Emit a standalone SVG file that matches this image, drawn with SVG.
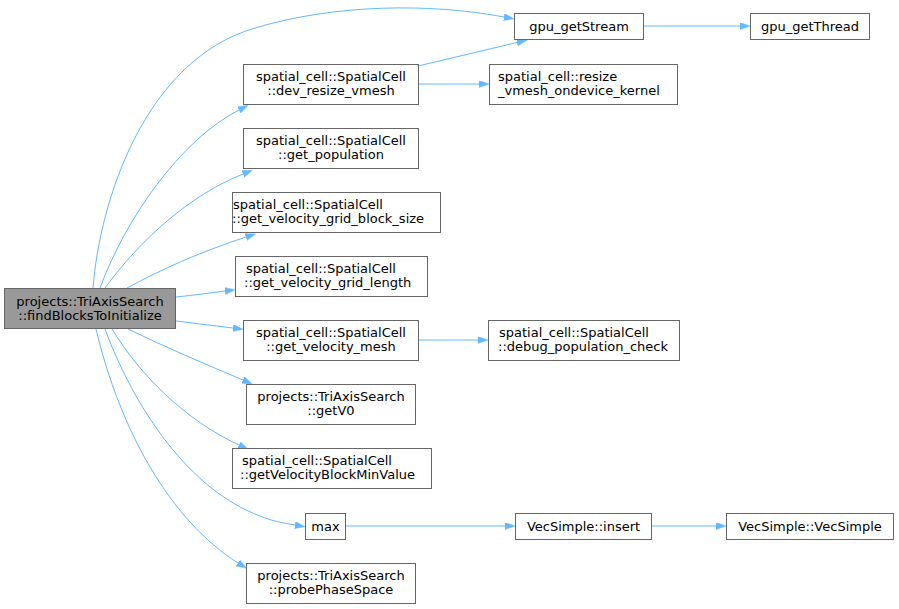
<svg xmlns="http://www.w3.org/2000/svg" width="899" height="609" viewBox="0 0 899 609">
<style>
.n rect{fill:#ffffff;stroke:#666666;stroke-width:1}
.n.m rect{fill:#999999}
text{font-family:"DejaVu Sans","Liberation Sans",sans-serif;font-size:13px;fill:#000000}
.c{text-anchor:middle}
.e path{fill:none;stroke:#63b8ff;stroke-width:1;marker-end:url(#ah)}
</style>
<defs>
<marker id="ah" markerUnits="userSpaceOnUse" markerWidth="11" markerHeight="8" refX="0" refY="3.5" orient="auto"><path d="M0,0 L10,3.5 L0,7 z" fill="#63b8ff" stroke="#63b8ff" stroke-width="0.5"/></marker>
</defs>
<rect width="899" height="609" fill="#ffffff"/>
<g id="edges" class="e">
<path d="M93,288 C100,200 145,60 255,28 C335,4 430,3 504,17"/>
<path d="M100,288 C125,220 180,140 239,110"/>
<path d="M105,288 C140,240 190,195 243,174"/>
<path d="M127,288 C160,270 200,252 246,237"/>
<path d="M176,297 C195,295 210,293 225,291"/>
<path d="M176,321 L233,328"/>
<path d="M128,329 C165,347 205,364 243,380"/>
<path d="M112,329 C140,375 185,420 239,445"/>
<path d="M105,329 C135,410 190,490 260,516 C272,521 283,523 295,525"/>
<path d="M96,329 C120,430 170,520 238,563"/>
<path d="M418,66 L517,42.5"/>
<path d="M418,84 L479,84"/>
<path d="M643,26 L740,26"/>
<path d="M418,340 L478,340"/>
<path d="M345,526 L505,526"/>
<path d="M651,526 L716,526"/>
</g>
<g id="main" class="n m"><rect x="4.5" y="288.5" width="171" height="40"/><text class="c" x="90" y="306">projects::TriAxisSearch</text><text class="c" x="90" y="320">::findBlocksToInitialize</text></g>
<g id="gpu_getStream" class="n"><rect x="514.5" y="13.5" width="129" height="26"/><text class="c" x="579" y="31">gpu_getStream</text></g>
<g id="gpu_getThread" class="n"><rect x="750.5" y="13.5" width="119" height="26"/><text class="c" x="810" y="31">gpu_getThread</text></g>
<g id="dev_resize_vmesh" class="n"><rect x="243.5" y="64.5" width="175" height="40"/><text class="c" x="331" y="81">spatial_cell::SpatialCell</text><text class="c" x="331" y="95">::dev_resize_vmesh</text></g>
<g id="resize_kernel" class="n"><rect x="489.5" y="64.5" width="188" height="40"/><text x="498" y="81">spatial_cell::resize</text><text x="498" y="95">_vmesh_ondevice_kernel</text></g>
<g id="get_population" class="n"><rect x="243.5" y="128.5" width="175" height="40"/><text class="c" x="331" y="145">spatial_cell::SpatialCell</text><text class="c" x="331" y="159">::get_population</text></g>
<g id="get_velocity_grid_block_size" class="n"><rect x="232.5" y="192.5" width="208" height="40"/><text x="233" y="209">spatial_cell::SpatialCell</text><text x="232" y="223">::get_velocity_grid_block_size</text></g>
<g id="get_velocity_grid_length" class="n"><rect x="235.5" y="256.5" width="192" height="40"/><text x="246" y="273">spatial_cell::SpatialCell</text><text x="244" y="287">::get_velocity_grid_length</text></g>
<g id="get_velocity_mesh" class="n"><rect x="243.5" y="320.5" width="175" height="40"/><text class="c" x="331" y="337">spatial_cell::SpatialCell</text><text class="c" x="331" y="351">::get_velocity_mesh</text></g>
<g id="debug_population_check" class="n"><rect x="488.5" y="320.5" width="191" height="40"/><text x="499" y="337">spatial_cell::SpatialCell</text><text x="498" y="351">::debug_population_check</text></g>
<g id="getV0" class="n"><rect x="246.5" y="384.5" width="169" height="40"/><text class="c" x="331" y="401">projects::TriAxisSearch</text><text class="c" x="331" y="415">::getV0</text></g>
<g id="getVelocityBlockMinValue" class="n"><rect x="232.5" y="448.5" width="199" height="40"/><text x="242" y="465">spatial_cell::SpatialCell</text><text x="240" y="479">::getVelocityBlockMinValue</text></g>
<g id="max" class="n"><rect x="305.5" y="513.5" width="40" height="26"/><text class="c" x="325.5" y="531">max</text></g>
<g id="VecSimple_insert" class="n"><rect x="515.5" y="513.5" width="136" height="26"/><text class="c" x="583.5" y="531">VecSimple::insert</text></g>
<g id="VecSimple_VecSimple" class="n"><rect x="726.5" y="513.5" width="167" height="26"/><text class="c" x="810" y="531">VecSimple::VecSimple</text></g>
<g id="probePhaseSpace" class="n"><rect x="246.5" y="563.5" width="169" height="40"/><text class="c" x="331" y="580">projects::TriAxisSearch</text><text class="c" x="331" y="594">::probePhaseSpace</text></g>
</svg>
